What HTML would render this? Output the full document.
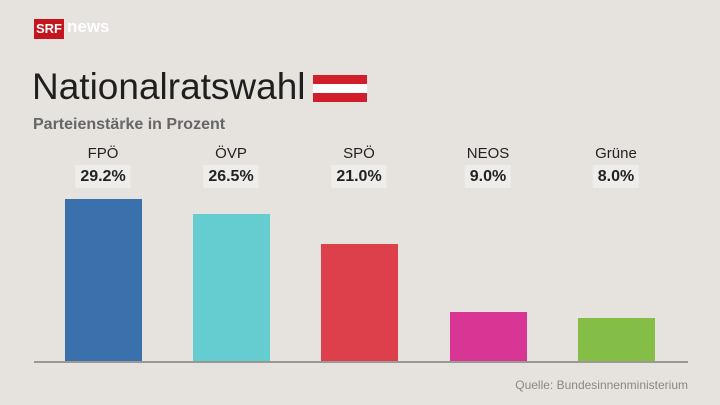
<!DOCTYPE html>
<html><head><meta charset="utf-8"><style>
body{margin:0;width:720px;height:405px;background:#e6e3de;position:relative;overflow:hidden;font-family:"Liberation Sans","DejaVu Sans",sans-serif}
.a{position:absolute}
.bar{position:absolute;width:77px;bottom:43px}
.nm{position:absolute;width:100px;text-align:center;top:145px;font-size:15px;color:#222}
.val{position:absolute;top:165px;height:23px;line-height:23px;padding:0 5px;background:#efedea;font-size:16px;font-weight:bold;color:#222;transform:translateX(-50%)}
</style></head><body>
<div class="a" style="left:34px;top:19px;width:30px;height:20px;background:#c4141e;color:#fff;font-weight:bold;font-size:13px;line-height:20px;text-align:center">SRF</div>
<div class="a" style="left:67px;top:17px;color:#fff;font-weight:bold;font-size:17px">news</div>
<div class="a" style="left:32px;top:66px;font-size:37px;color:#1f1f1f">Nationalratswahl</div>
<div class="a" style="left:313px;top:75px;width:54px;height:27px;background:linear-gradient(#d21e2b 0 33%,#fff 33% 67%,#d21e2b 67%)"></div>
<div class="a" style="left:33px;top:116px;font-size:16px;font-weight:bold;color:#666">Parteienstärke in Prozent</div>
<div class="nm" style="left:53px">FPÖ</div><div class="val" style="left:103px">29.2%</div>
<div class="nm" style="left:181px">ÖVP</div><div class="val" style="left:231px">26.5%</div>
<div class="nm" style="left:309px">SPÖ</div><div class="val" style="left:359px">21.0%</div>
<div class="nm" style="left:438px">NEOS</div><div class="val" style="left:488px">9.0%</div>
<div class="nm" style="left:566px">Grüne</div><div class="val" style="left:616px">8.0%</div>
<div class="bar" style="left:65px;top:199px;background:#3a70ab"></div>
<div class="bar" style="left:193px;top:214px;background:#65cdd0"></div>
<div class="bar" style="left:321px;top:244px;background:#de404b"></div>
<div class="bar" style="left:450px;top:312px;background:#d83595"></div>
<div class="bar" style="left:578px;top:318px;background:#84be47"></div>
<div class="a" style="left:34px;top:361px;width:654px;height:2px;background:#9a9894"></div>
<div class="a" style="right:32px;top:378px;font-size:12px;color:#888">Quelle: Bundesinnenministerium</div>
</body></html>
